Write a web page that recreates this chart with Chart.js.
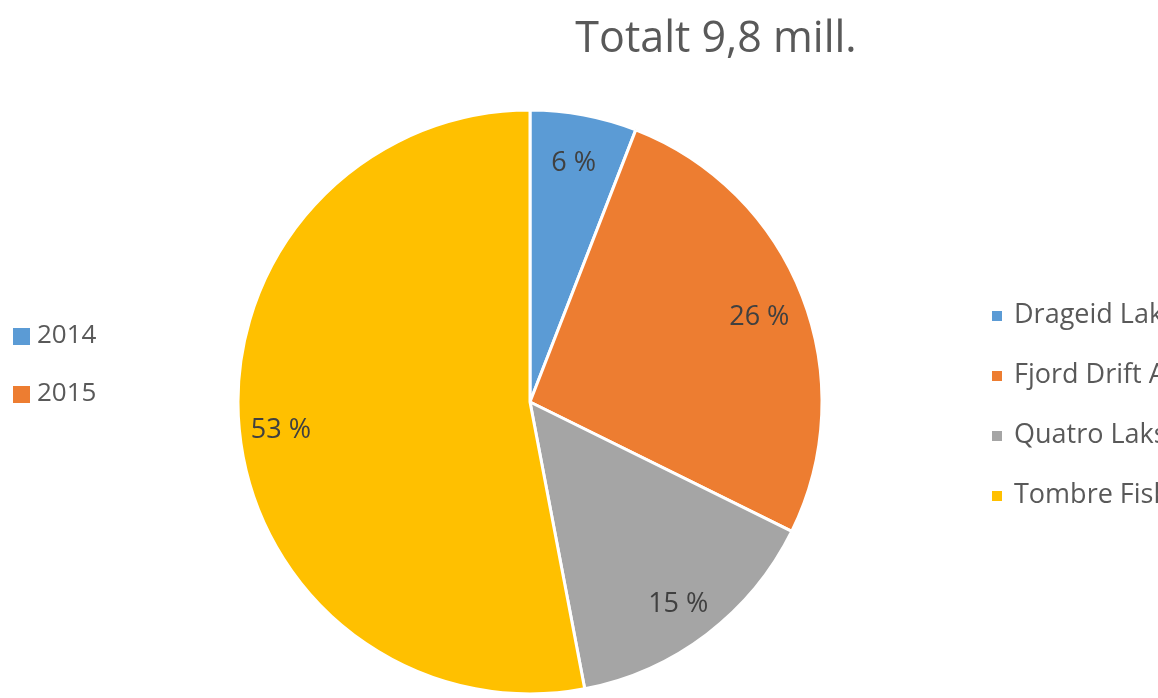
<!DOCTYPE html>
<html>
<head>
<meta charset="utf-8">
<script src="https://cdn.jsdelivr.net/npm/chart.js@4"></script>
<style>
html,body{margin:0;padding:0;background:#fff;}
#wrap{width:1158px;height:698px;position:relative;}
</style>
</head>
<body>
<div id="wrap"><canvas id="c" width="1158" height="698"></canvas></div>
<script>
const title = "Totalt 9,8 mill.";
const categories = ["Drageid Laks AS", "Fjord Drift AS", "Quatro Laks AS", "Tombre Fiskeanlegg AS"];
const values = [5.9, 26.4, 14.7, 53.0];
const colors = ["#5B9BD5", "#ED7D31", "#A5A5A5", "#FFC000"];
const yearLabels = ["2014", "2015"];
const yearColors = ["#5B9BD5", "#ED7D31"];

const FONT = '"Open Sans", "Noto Sans", sans-serif';

const extras = {
  id: 'extras',
  afterDatasetsDraw(chart) {
    const ctx = chart.ctx;
    const meta = chart.getDatasetMeta(0);
    const total = values.reduce((a, b) => a + b, 0);
    ctx.save();
    // slice labels
    ctx.font = '27px ' + FONT;
    ctx.fillStyle = '#404040';
    ctx.textAlign = 'center';
    ctx.textBaseline = 'middle';
    meta.data.forEach((arc, i) => {
      const p = arc.getProps(['x', 'y', 'startAngle', 'endAngle', 'outerRadius'], true);
      const mid = (p.startAngle + p.endAngle) / 2;
      const r = p.outerRadius * 0.85;
      const pct = Math.round(values[i] / total * 100);
      ctx.fillText(pct + ' %', p.x + Math.cos(mid) * r - 2, p.y + Math.sin(mid) * r + 5);
    });
    // title
    ctx.font = '43px ' + FONT;
    ctx.fillStyle = '#595959';
    ctx.textBaseline = 'alphabetic';
    ctx.fillText(title, 716, 52);
    // left legend
    ctx.textAlign = 'left';
    ctx.font = '26px ' + FONT;
    yearLabels.forEach((t, i) => {
      const y = 336 + i * 58;
      ctx.fillStyle = yearColors[i];
      ctx.fillRect(13, y - 8, 17, 17);
      ctx.fillStyle = '#595959';
      ctx.textBaseline = 'middle';
      ctx.fillText(t, 37, y);
    });
    // right legend
    ctx.font = '27px ' + FONT;
    ctx.textBaseline = 'alphabetic';
    categories.forEach((t, i) => {
      const y = 323 + i * 60;
      ctx.fillStyle = colors[i];
      ctx.fillRect(992, y - 12, 10, 10);
      ctx.fillStyle = '#595959';
      ctx.fillText(t, 1014, y);
    });
    ctx.restore();
  }
};

new Chart(document.getElementById('c'), {
  type: 'pie',
  data: {
    labels: categories,
    datasets: [{
      data: values,
      backgroundColor: colors,
      borderColor: '#ffffff',
      borderWidth: 3
    }]
  },
  options: {
    responsive: false,
    devicePixelRatio: 1,
    animation: false,
    radius: 292,
    layout: { padding: { left: 238, right: 336, top: 110, bottom: 4 } },
    plugins: {
      legend: { display: false },
      title: { display: false },
      tooltip: { enabled: false }
    }
  },
  plugins: [extras]
});
</script>
</body>
</html>
